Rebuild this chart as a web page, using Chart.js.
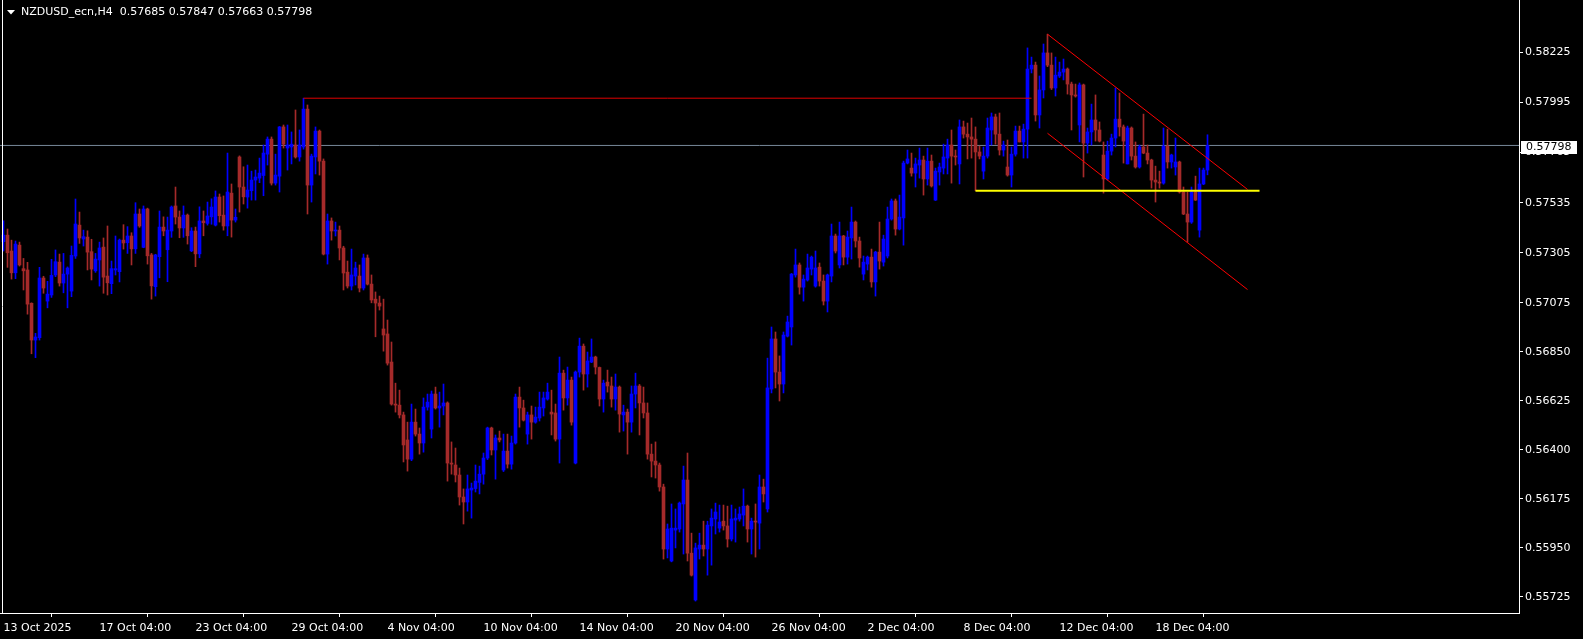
<!DOCTYPE html>
<html lang="en">
<head>
<meta charset="UTF-8">
<title>NZDUSD_ecn,H4</title>
<script src="https://cdn.jsdelivr.net/npm/chart.js"></script>
<style>
  html, body { margin: 0; padding: 0; background: #000; overflow: hidden; }
  .chart-box { width: 1583px; height: 639px; }
</style>
</head>
<body>
<div class="chart-box"><canvas id="priceChart"></canvas></div>
<script>
const symbolTitle = 'NZDUSD_ecn,H4';

// H4 candles, bar 0 = 13 Oct 2025
const opens = [
  0.57356,0.57386,0.57313,0.57213,0.57340,0.57232,0.57226,0.57073,0.56904,0.56915,
  0.57189,0.57083,0.57111,0.57203,0.57262,0.57166,0.57207,0.57129,0.57290,0.57432,
  0.57368,0.57377,0.57310,0.57222,0.57272,0.57331,0.57198,0.57163,0.57226,0.57218,
  0.57363,0.57351,0.57382,0.57323,0.57483,0.57330,0.57506,0.57295,0.57149,0.57287,
  0.57423,0.57319,0.57405,0.57520,0.57469,0.57419,0.57478,0.57314,0.57405,0.57300,
  0.57451,0.57440,0.57470,0.57432,0.57561,0.57478,0.57428,0.57579,0.57455,0.57745,
  0.57607,0.57561,0.57590,0.57639,0.57648,0.57660,0.57758,0.57827,0.57625,0.57657,
  0.57883,0.57786,0.57791,0.57800,0.57745,0.57791,0.57965,0.57616,0.57745,0.57864,
  0.57726,0.57299,0.57451,0.57405,0.57409,0.57327,0.57216,0.57152,0.57198,0.57198,
  0.57143,0.57281,0.57161,0.57092,0.57074,0.56955,0.56932,0.56803,0.56610,0.56605,
  0.56560,0.56445,0.56357,0.56527,0.56472,0.56431,0.56596,0.56495,0.56656,0.56592,
  0.56601,0.56615,0.56339,0.56330,0.56284,0.56183,0.56160,0.56215,0.56222,0.56250,
  0.56288,0.56362,0.56500,0.56399,0.56454,0.56307,0.56394,0.56334,0.56431,0.56642,
  0.56592,0.56472,0.56560,0.56527,0.56546,0.56592,0.56633,0.56573,0.56569,0.56449,
  0.56752,0.56638,0.56720,0.56339,0.56757,0.56876,0.56748,0.56803,0.56826,0.56778,
  0.56633,0.56711,0.56693,0.56633,0.56688,0.56560,0.56573,0.56527,0.56656,0.56693,
  0.56615,0.56569,0.56380,0.56348,0.56330,0.56229,0.55944,0.55889,0.56031,0.56036,
  0.56151,0.56261,0.55925,0.55710,0.55944,0.55962,0.55944,0.56050,0.56082,0.56040,
  0.56072,0.56050,0.55990,0.56077,0.56082,0.56100,0.56141,0.56036,0.56072,0.56063,
  0.56229,0.56128,0.56679,0.56909,0.56757,0.56702,0.56922,0.56964,0.57203,0.57249,
  0.57147,0.57180,0.57230,0.57152,0.57239,0.57175,0.57083,0.57198,0.57382,0.57249,
  0.57382,0.57285,0.57373,0.57446,0.57359,0.57207,0.57253,0.57285,0.57171,0.57308,
  0.57262,0.57290,0.57460,0.57543,0.57414,0.57465,0.57717,0.57694,0.57671,0.57708,
  0.57731,0.57644,0.57726,0.57547,0.57676,0.57694,0.57740,0.57800,0.57749,0.57713,
  0.57883,0.57850,0.57837,0.57827,0.57768,0.57680,0.57749,0.57869,0.57929,0.57850,
  0.57777,0.57699,0.57662,0.57758,0.57864,0.57814,0.57873,0.58149,0.58167,0.57938,
  0.58053,0.58223,0.58167,0.58062,0.58117,0.58135,0.58149,0.58080,0.58030,0.57892,
  0.58076,0.57809,0.57860,0.57915,0.57869,0.57754,0.57644,0.57772,0.57832,0.57919,
  0.57883,0.57713,0.57878,0.57749,0.57699,0.57791,0.57763,0.57731,0.57639,0.57630,
  0.57625,0.57795,0.57722,0.57699,0.57722,0.57584,0.57483,0.57446,0.57584,0.57409,
  0.57621,0.57685
];
const highs = [
  0.57452,0.57414,0.57363,0.57359,0.57354,0.57279,0.57261,0.57075,0.56935,0.57238,
  0.57197,0.57174,0.57275,0.57318,0.57299,0.57302,0.57240,0.57336,0.57552,0.57492,
  0.57409,0.57406,0.57367,0.57302,0.57354,0.57373,0.57428,0.57267,0.57382,0.57368,
  0.57434,0.57425,0.57397,0.57535,0.57506,0.57520,0.57510,0.57302,0.57298,0.57497,
  0.57470,0.57469,0.57520,0.57607,0.57497,0.57520,0.57483,0.57420,0.57423,0.57516,
  0.57497,0.57538,0.57553,0.57589,0.57575,0.57566,0.57763,0.57621,0.57506,0.57750,
  0.57700,0.57708,0.57680,0.57685,0.57740,0.57800,0.57837,0.57837,0.57758,0.57885,
  0.57892,0.57892,0.57860,0.57961,0.57869,0.58015,0.57984,0.57758,0.57883,0.57869,
  0.57736,0.57483,0.57465,0.57446,0.57428,0.57335,0.57267,0.57322,0.57262,0.57249,
  0.57299,0.57295,0.57203,0.57125,0.57106,0.57092,0.56996,0.56895,0.56706,0.56674,
  0.56573,0.56527,0.56610,0.56587,0.56500,0.56638,0.56656,0.56670,0.56688,0.56665,
  0.56702,0.56620,0.56436,0.56408,0.56316,0.56220,0.56284,0.56247,0.56330,0.56325,
  0.56385,0.56504,0.56504,0.56468,0.56486,0.56472,0.56472,0.56463,0.56656,0.56688,
  0.56628,0.56573,0.56601,0.56596,0.56665,0.56665,0.56706,0.56674,0.56610,0.56826,
  0.56766,0.56780,0.56734,0.56762,0.56913,0.56886,0.56849,0.56909,0.56830,0.56780,
  0.56720,0.56766,0.56734,0.56748,0.56693,0.56605,0.56587,0.56693,0.56752,0.56700,
  0.56688,0.56615,0.56426,0.56436,0.56339,0.56242,0.56059,0.56151,0.56128,0.56160,
  0.56325,0.56385,0.56017,0.55971,0.56017,0.56072,0.56072,0.56128,0.56155,0.56146,
  0.56146,0.56141,0.56146,0.56128,0.56137,0.56220,0.56146,0.56086,0.56151,0.56284,
  0.56265,0.56821,0.56964,0.56941,0.56831,0.56941,0.57014,0.57210,0.57322,0.57258,
  0.57203,0.57299,0.57290,0.57313,0.57258,0.57203,0.57207,0.57437,0.57391,0.57446,
  0.57385,0.57405,0.57515,0.57451,0.57377,0.57290,0.57290,0.57322,0.57312,0.57446,
  0.57386,0.57515,0.57552,0.57552,0.57570,0.57726,0.57777,0.57763,0.57740,0.57786,
  0.57749,0.57786,0.57754,0.57694,0.57717,0.57804,0.57827,0.57869,0.57777,0.57915,
  0.57910,0.57901,0.57924,0.57883,0.57795,0.57791,0.57924,0.57947,0.57942,0.57947,
  0.57818,0.57823,0.57791,0.57887,0.57887,0.57896,0.58246,0.58204,0.58181,0.58117,
  0.58264,0.58309,0.58223,0.58204,0.58181,0.58195,0.58154,0.58089,0.58080,0.58085,
  0.58080,0.57878,0.57988,0.58030,0.57906,0.57814,0.57818,0.57850,0.58062,0.58039,
  0.57892,0.57887,0.57883,0.57814,0.57800,0.57942,0.57800,0.57735,0.57703,0.57680,
  0.57878,0.57873,0.57758,0.57832,0.57726,0.57607,0.57584,0.57607,0.57657,0.57694,
  0.57694,0.57847
];
const lows = [
  0.57313,0.57238,0.57184,0.57186,0.57244,0.57134,0.57023,0.56841,0.56823,0.56904,
  0.57119,0.57052,0.57100,0.57195,0.57152,0.57121,0.57052,0.57103,0.57279,0.57348,
  0.57336,0.57226,0.57180,0.57215,0.57152,0.57119,0.57111,0.57117,0.57203,0.57171,
  0.57322,0.57302,0.57249,0.57302,0.57422,0.57328,0.57253,0.57092,0.57106,0.57190,
  0.57383,0.57172,0.57376,0.57437,0.57374,0.57376,0.57345,0.57310,0.57241,0.57282,
  0.57383,0.57432,0.57436,0.57428,0.57446,0.57409,0.57383,0.57377,0.57446,0.57492,
  0.57529,0.57510,0.57547,0.57547,0.57627,0.57567,0.57708,0.57616,0.57616,0.57584,
  0.57786,0.57685,0.57713,0.57740,0.57726,0.57781,0.57483,0.57538,0.57667,0.57662,
  0.57295,0.57253,0.57363,0.57382,0.57272,0.57134,0.57143,0.57134,0.57157,0.57125,
  0.57134,0.57157,0.57075,0.56919,0.57042,0.56853,0.56789,0.56605,0.56573,0.56546,
  0.56344,0.56302,0.56350,0.56463,0.56380,0.56389,0.56582,0.56454,0.56587,0.56504,
  0.56560,0.56256,0.56288,0.56252,0.56146,0.56059,0.56118,0.56086,0.56206,0.56197,
  0.56242,0.56355,0.56376,0.56265,0.56436,0.56300,0.56316,0.56311,0.56426,0.56504,
  0.56532,0.56426,0.56449,0.56522,0.56532,0.56555,0.56628,0.56468,0.56440,0.56339,
  0.56582,0.56605,0.56513,0.56335,0.56734,0.56674,0.56688,0.56800,0.56748,0.56601,
  0.56573,0.56665,0.56596,0.56582,0.56481,0.56486,0.56380,0.56481,0.56592,0.56468,
  0.56546,0.56357,0.56275,0.56270,0.56210,0.55898,0.55903,0.55885,0.55949,0.56022,
  0.55921,0.55889,0.55820,0.55705,0.55898,0.55912,0.55824,0.55870,0.56013,0.56022,
  0.56031,0.55953,0.55981,0.55976,0.56072,0.56050,0.55976,0.55921,0.55907,0.55944,
  0.56160,0.56114,0.56661,0.56684,0.56624,0.56661,0.56918,0.56881,0.57193,0.57115,
  0.57083,0.57175,0.57203,0.57147,0.57152,0.57065,0.57033,0.57171,0.57304,0.57235,
  0.57249,0.57253,0.57276,0.57331,0.57239,0.57180,0.57226,0.57147,0.57106,0.57230,
  0.57244,0.57281,0.57455,0.57386,0.57410,0.57340,0.57713,0.57657,0.57607,0.57648,
  0.57570,0.57616,0.57607,0.57545,0.57616,0.57667,0.57667,0.57625,0.57708,0.57621,
  0.57832,0.57736,0.57740,0.57590,0.57736,0.57644,0.57740,0.57800,0.57804,0.57754,
  0.57749,0.57657,0.57607,0.57749,0.57814,0.57740,0.57740,0.58131,0.57910,0.57878,
  0.58016,0.58160,0.58055,0.58025,0.58110,0.58099,0.58034,0.57869,0.58020,0.57814,
  0.57653,0.57763,0.57800,0.57818,0.57814,0.57579,0.57639,0.57754,0.57791,0.57841,
  0.57717,0.57713,0.57731,0.57694,0.57694,0.57760,0.57713,0.57602,0.57538,0.57602,
  0.57620,0.57694,0.57694,0.57662,0.57579,0.57480,0.57354,0.57440,0.57545,0.57377,
  0.57618,0.57663
];
const closes = [
  0.57386,0.57305,0.57213,0.57345,0.57249,0.57222,0.57069,0.56904,0.56918,0.57189,
  0.57143,0.57115,0.57201,0.57264,0.57166,0.57207,0.57235,0.57293,0.57437,0.57373,
  0.57379,0.57308,0.57230,0.57276,0.57327,0.57193,0.57167,0.57232,0.57232,0.57363,
  0.57350,0.57382,0.57323,0.57483,0.57428,0.57506,0.57291,0.57153,0.57295,0.57423,
  0.57405,0.57409,0.57515,0.57469,0.57419,0.57478,0.57383,0.57405,0.57300,0.57451,
  0.57443,0.57474,0.57515,0.57561,0.57475,0.57428,0.57584,0.57455,0.57468,0.57607,
  0.57562,0.57593,0.57639,0.57653,0.57671,0.57763,0.57827,0.57625,0.57662,0.57883,
  0.57804,0.57800,0.57804,0.57745,0.57800,0.57965,0.57616,0.57749,0.57864,0.57726,
  0.57299,0.57451,0.57405,0.57409,0.57327,0.57212,0.57152,0.57203,0.57235,0.57143,
  0.57281,0.57161,0.57088,0.57074,0.57060,0.56927,0.56798,0.56610,0.56605,0.56560,
  0.56422,0.56357,0.56527,0.56472,0.56431,0.56596,0.56619,0.56656,0.56592,0.56601,
  0.56615,0.56339,0.56334,0.56284,0.56183,0.56160,0.56220,0.56224,0.56256,0.56288,
  0.56362,0.56500,0.56399,0.56454,0.56445,0.56394,0.56334,0.56431,0.56642,0.56592,
  0.56536,0.56560,0.56527,0.56550,0.56596,0.56638,0.56665,0.56564,0.56449,0.56752,
  0.56638,0.56720,0.56527,0.56757,0.56876,0.56748,0.56808,0.56826,0.56780,0.56633,
  0.56706,0.56693,0.56633,0.56688,0.56564,0.56573,0.56527,0.56656,0.56693,0.56615,
  0.56569,0.56380,0.56348,0.56330,0.56229,0.55944,0.56036,0.56040,0.56040,0.56155,
  0.56261,0.55925,0.55824,0.55949,0.55962,0.55944,0.56054,0.56086,0.56114,0.56068,
  0.56050,0.55990,0.56082,0.56086,0.56105,0.56141,0.56036,0.56072,0.56068,0.56229,
  0.56197,0.56684,0.56909,0.56757,0.56702,0.56927,0.56987,0.57207,0.57249,0.57147,
  0.57184,0.57235,0.57285,0.57235,0.57175,0.57083,0.57203,0.57382,0.57313,0.57382,
  0.57285,0.57377,0.57446,0.57359,0.57281,0.57262,0.57285,0.57171,0.57308,0.57267,
  0.57368,0.57460,0.57543,0.57414,0.57469,0.57717,0.57736,0.57671,0.57713,0.57731,
  0.57644,0.57726,0.57612,0.57680,0.57699,0.57745,0.57800,0.57749,0.57745,0.57883,
  0.57850,0.57837,0.57827,0.57768,0.57749,0.57749,0.57878,0.57929,0.57850,0.57777,
  0.57800,0.57662,0.57758,0.57864,0.57814,0.57873,0.58149,0.58167,0.57938,0.58053,
  0.58223,0.58167,0.58062,0.58121,0.58135,0.58149,0.58080,0.58030,0.58025,0.58076,
  0.57809,0.57860,0.57915,0.57869,0.57818,0.57644,0.57772,0.57832,0.57919,0.57883,
  0.57818,0.57878,0.57749,0.57699,0.57791,0.57763,0.57731,0.57639,0.57630,0.57625,
  0.57795,0.57722,0.57754,0.57722,0.57584,0.57483,0.57446,0.57584,0.57547,0.57621,
  0.57685,0.57798
];

const timeLabelBars = [0, 24, 48, 72, 96, 120, 144, 168, 192, 216, 240, 264, 288];
const timeLabels = ['13 Oct 2025', '17 Oct 04:00', '23 Oct 04:00', '29 Oct 04:00', '4 Nov 04:00',
  '10 Nov 04:00', '14 Nov 04:00', '20 Nov 04:00', '26 Nov 04:00', '2 Dec 04:00',
  '8 Dec 04:00', '12 Dec 04:00', '18 Dec 04:00'];
const priceLabels = ['0.58225', '0.57995', '0.57765', '0.57535', '0.57305', '0.57075',
  '0.56850', '0.56625', '0.56400', '0.56175', '0.55950', '0.55725'];

// drawn objects (bar index, price)
const bidPrice = 0.57798;
const highLine = [{ x: 75, y: 0.58015 }, { x: 257, y: 0.58015 }];
const supportLine = [{ x: 243, y: 0.5759 }, { x: 314, y: 0.5759 }];
const channelUpper = [{ x: 261, y: 0.58309 }, { x: 311, y: 0.57596 }];
const channelLower = [{ x: 261, y: 0.57854 }, { x: 311, y: 0.57136 }];

// visible window, 4 px per bar
const xMin = -0.875, xMax = 378.875;
const yMin = 0.5565012, yMax = 0.5846618;

const upColor = '#0000ff';
const downColor = '#a52a2a';
const fontFace = '"DejaVu Sans", sans-serif';

const candleColors = closes.map((c, i) => c >= opens[i] ? upColor : downColor);
const wickData = highs.map((h, i) => ({ x: i, y: [lows[i], h] }));
const bodyData = opens.map((o, i) => ({ x: i, y: [o, closes[i]] }));

function lineSet(points, color, width, order) {
    return {
        type: 'line',
        data: points,
        borderColor: color,
        borderWidth: width,
        pointRadius: 0,
        tension: 0,
        fill: false,
        order: order
    };
}

const chartDecor = {
    id: 'chartDecor',
    afterDraw(chart) {
        const { ctx, chartArea, scales } = chart;
        const last = closes.length - 1;
        ctx.save();
        // left frame line
        ctx.strokeStyle = '#ffffff';
        ctx.lineWidth = 1;
        ctx.beginPath();
        ctx.moveTo(2.5, chartArea.top);
        ctx.lineTo(2.5, chartArea.bottom);
        ctx.stroke();

        // header
        ctx.fillStyle = '#ffffff';
        ctx.beginPath();
        ctx.moveTo(7, 10);
        ctx.lineTo(15, 10);
        ctx.lineTo(11, 14.5);
        ctx.closePath();
        ctx.fill();
        ctx.font = '11px ' + fontFace;
        ctx.textBaseline = 'middle';
        ctx.textAlign = 'left';
        const ohlc = [opens[last], highs[last], lows[last], closes[last]].map(v => v.toFixed(5)).join(' ');
        ctx.fillText(symbolTitle + '  ' + ohlc, 21, 12.5);

        // bid price box
        const y = Math.round(scales.y.getPixelForValue(bidPrice));
        ctx.fillRect(chartArea.right + 2, y - 4, 56, 13);
        ctx.fillStyle = '#000000';
        ctx.fillText(bidPrice.toFixed(5), chartArea.right + 7, y + 2.5);
        ctx.restore();
    }
};

const ctx = document.getElementById('priceChart').getContext('2d');
const priceChart = new Chart(ctx, {
    type: 'bar',
    data: {
        datasets: [
            lineSet([{ x: xMin, y: bidPrice }, { x: xMax, y: bidPrice }], '#778899', 1, 4),
            {
                type: 'bar',
                data: wickData,
                backgroundColor: candleColors,
                borderWidth: 0,
                barThickness: 1,
                grouped: false,
                order: 3
            },
            {
                type: 'bar',
                data: bodyData,
                backgroundColor: candleColors,
                borderWidth: 0,
                barThickness: 3,
                minBarLength: 1,
                grouped: false,
                order: 2
            },
            lineSet(highLine, '#e00000', 1, 1),
            lineSet(supportLine, '#ffff00', 2, 0),
            lineSet(channelUpper, '#ff0000', 1, 0),
            lineSet(channelLower, '#ff0000', 1, 0)
        ]
    },
    options: {
        responsive: true,
        maintainAspectRatio: false,
        animation: false,
        layout: { padding: 0 },
        plugins: {
            legend: { display: false },
            tooltip: { enabled: false }
        },
        scales: {
            x: {
                type: 'linear',
                min: xMin,
                max: xMax,
                offset: false,
                grid: {
                    drawOnChartArea: false,
                    drawTicks: true,
                    tickLength: 4,
                    color: '#ffffff'
                },
                border: { display: true, color: '#ffffff' },
                ticks: {
                    color: '#ffffff',
                    font: { family: fontFace, size: 11 },
                    align: 'start',
                    maxRotation: 0,
                    autoSkip: false,
                    padding: 5,
                    callback: (v, i) => timeLabels[i]
                },
                afterBuildTicks: (scale) => {
                    scale.ticks = timeLabelBars.map(v => ({ value: v }));
                },
                afterFit: (scale) => {
                    scale.height = 26;
                    scale.paddingLeft = 0;
                    scale.paddingRight = 0;
                }
            },
            y: {
                type: 'linear',
                position: 'right',
                min: yMin,
                max: yMax,
                grid: {
                    drawOnChartArea: false,
                    drawTicks: true,
                    tickLength: 4,
                    color: '#ffffff'
                },
                border: { display: true, color: '#ffffff' },
                ticks: {
                    color: '#ffffff',
                    font: { family: fontFace, size: 11 },
                    padding: 2,
                    callback: (v, i) => priceLabels[i]
                },
                afterBuildTicks: (scale) => {
                    scale.ticks = priceLabels.map(t => ({ value: parseFloat(t) }));
                },
                afterFit: (scale) => {
                    scale.width = 64;
                    scale.paddingTop = 0;
                    scale.paddingBottom = 0;
                }
            }
        }
    },
    plugins: [chartDecor]
});
</script>
</body>
</html>
